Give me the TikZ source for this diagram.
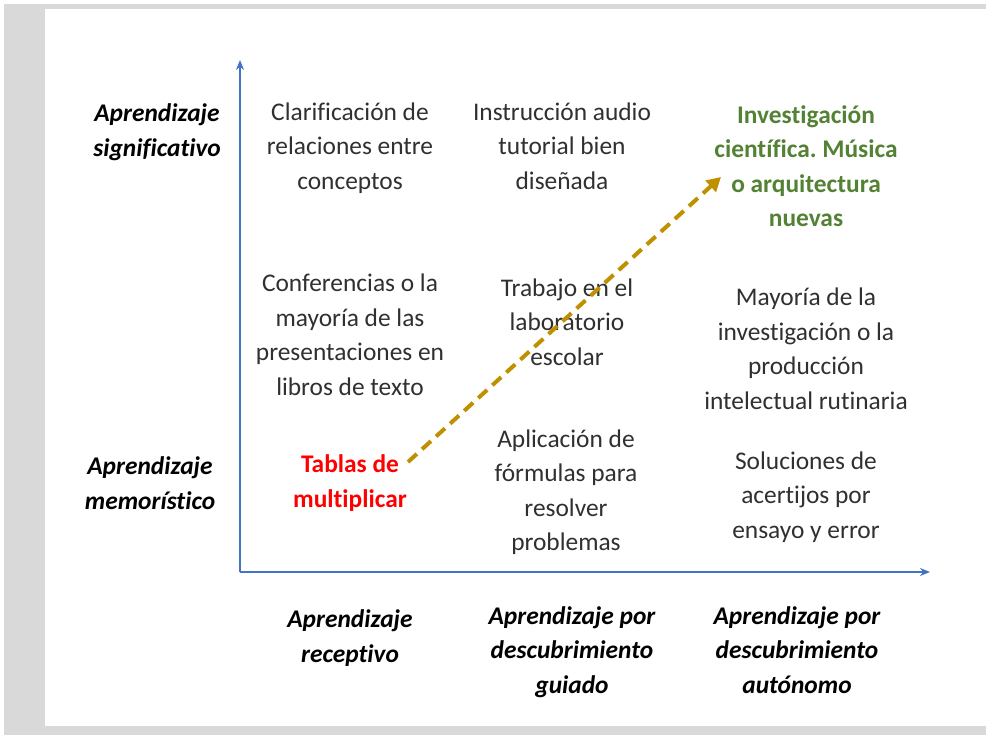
\documentclass[tikz,border=0pt]{standalone}
\usepackage{fontspec}
\setmainfont{Carlito}[Ligatures=NoCommon]
\usepackage{tikz}
\usetikzlibrary{arrows.meta}
\definecolor{axisblue}{HTML}{4472C4}
\definecolor{arrowgold}{HTML}{BF9000}
\definecolor{okgreen}{HTML}{548235}
\definecolor{textgray}{HTML}{303030}
\frenchspacing
\tikzset{
  celltext/.style={align=center,inner sep=0pt,text=textgray,font=\fontsize{25.4}{34.5}\selectfont},
  axislabel/.style={align=center,inner sep=0pt,text=black,font=\fontsize{25.4}{34.5}\selectfont\bfseries\itshape},
}

\begin{document}
\begin{tikzpicture}[x=1pt,y=-1pt]
            \useasboundingbox (0,0) rectangle (986,735);
            \fill[white] (0,0) rectangle (986,735);
            \fill[black!15] (4,4) rectangle (986,735);
            \fill[white] (45,9) rectangle (986,726);
            % axes
            \coordinate (origin) at (240,572);
            \coordinate (ytop) at (240,60);
            \coordinate (xend) at (930,572);
            \draw[axisblue,line width=2.5pt,-{Stealth[length=10pt,width=8pt]}] (origin)--(ytop);
            \draw[axisblue,line width=2.5pt,-{Stealth[length=10pt,width=8pt]}] (origin)--(xend);
            % row labels
            \node[axislabel] (signif) at (157,132) {Aprendizaje\\significativo};
            \node[axislabel] (memor) at (150,483) {Aprendizaje\\memorístico};
            % column labels
            \node[axislabel] (recep) at (350,638) {Aprendizaje\\receptivo};
            \node[axislabel] (guiado) at (572,652) {Aprendizaje por\\descubrimiento\\guiado};
            \node[axislabel] (auton) at (797,650) {Aprendizaje por\\descubrimiento\\autónomo};
            % first column
            \node[celltext] (clarif) at (350,148) {Clarificación de\\relaciones entre\\conceptos};
            \node[celltext] (confer) at (350,335) {Conferencias o la\\mayoría de las\\presentaciones en\\libros de texto};
            \node[celltext,text=red,font=\fontsize{25.4}{34.5}\selectfont\bfseries] (tablas) at (350,483) {Tablas de\\multiplicar};
            % second column
            \node[celltext] (instruc) at (562,146) {Instrucción audio\\tutorial bien\\diseñada};
            \node[celltext] (trabajo) at (567,322) {Trabajo en el\\laboratorio\\escolar};
            \node[celltext] (aplic) at (566,492) {Aplicación de\\fórmulas para\\resolver\\problemas};
            % third column
            \node[celltext,text=okgreen,font=\fontsize{25.4}{34.5}\selectfont\bfseries] (invest) at (806,166) {Investigación\\científica. Música\\o arquitectura\\nuevas};
            \node[celltext] (mayoria) at (806,349) {Mayoría de la\\investigación o la\\producción\\intelectual rutinaria};
            \node[celltext] (soluc) at (806,497) {Soluciones de\\acertijos por\\ensayo y error};
            % dashed arrow
            \coordinate (astart) at (408,462);
            \coordinate (aend) at (721,177);
            \draw[arrowgold,line width=4pt,dash pattern=on 12pt off 7pt,-{Triangle[length=14pt,width=15pt]}] (astart)--(aend);
        \end{tikzpicture}
\end{document}
